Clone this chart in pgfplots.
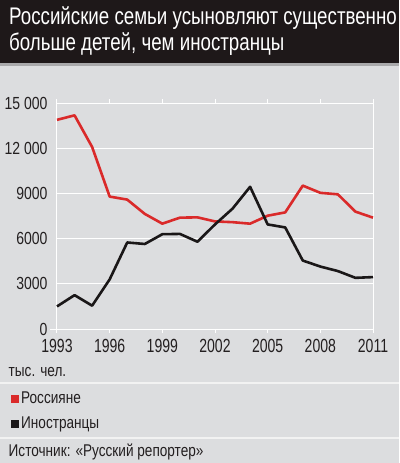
\documentclass[border=0pt]{standalone}
\usepackage{pgfplots}
\pgfplotsset{compat=1.18}
\usepackage{fontspec}
\setmainfont{Liberation Sans}[FakeStretch=0.8]
\newfontfamily\xfont{Liberation Sans}[FakeStretch=0.74]
\newfontfamily\tfont{Liberation Sans}[FakeStretch=0.78]
\definecolor{bg}{HTML}{DCDDDF}
\definecolor{titlebg}{HTML}{1E1819}
\definecolor{sepgray}{HTML}{A9A9AB}
\definecolor{rline}{HTML}{DA2A2A}
\definecolor{kline}{HTML}{1A1718}
\definecolor{txt}{HTML}{231F20}
\definecolor{sepwhite}{HTML}{F2F2F2}
\begin{document}
\begin{tikzpicture}[x=1pt,y=1pt]
\fill[bg] (0,0) rectangle (399,-463);
\fill[titlebg] (0,0) rectangle (399,-63);
\fill[sepgray] (0,-63) rectangle (399,-66);
\node[anchor=base west, text=white, font=\tfont\fontsize{24}{26}\selectfont, inner sep=0] at (9,-24) {Российские семьи усыновляют существенно};
\node[anchor=base west, text=white, font=\tfont\fontsize{24}{26}\selectfont, inner sep=0] at (9,-50) {больше детей, чем иностранцы};
\begin{axis}[at={(57pt,-329pt)}, anchor=south west, scale only axis,
  width=316pt, height=225.7pt,
  xmin=1993, xmax=2011, ymin=0, ymax=15000,
  scaled y ticks=false,
  xtick={1993,1996,1999,2002,2005,2008,2011},
  xticklabels={1993,1996,1999,2002,2005,2008,2011},
  ytick={0,3000,6000,9000,12000,15000},
  yticklabels={0,3000,6000,9000,12 000,15 000},
  /pgf/number format/assume math mode=true,
  axis line style={white, line width=1pt},
  ymajorgrids=true, xmajorgrids=false,
  major grid style={white, line width=1pt},
  tick align=outside, major tick length=4pt,
  xtick style={white, line width=1pt},
  ytick style={draw=none},
  yticklabel style={font=\fontsize{17.5}{18}\selectfont, text=txt, xshift=-2pt},
  xticklabel style={font=\xfont\fontsize{19}{20}\selectfont, text=txt, yshift=-3pt},
  clip=false,
]
\addplot[rline, line width=2.6pt, line join=round] coordinates {
(1993,13900)(1994,14200)(1995,12100)(1996,8800)(1997,8600)(1998,7650)(1999,7000)(2000,7400)(2001,7420)(2002,7150)(2003,7100)(2004,7000)(2005,7530)(2006,7750)(2007,9530)(2008,9050)(2009,8950)(2010,7800)(2011,7400)};
\addplot[kline, line width=2.6pt, line join=round] coordinates {
(1993,1500)(1994,2250)(1995,1550)(1996,3300)(1997,5750)(1998,5650)(1999,6300)(2000,6320)(2001,5800)(2002,6950)(2003,8000)(2004,9450)(2005,6950)(2006,6750)(2007,4550)(2008,4150)(2009,3850)(2010,3400)(2011,3450)};
\end{axis}
\draw[white, line width=1pt] (50,-329) -- (57,-329);
\node[anchor=base west, text=txt, font=\fontsize{17}{18}\selectfont, inner sep=0] at (8.5,-376.5) {тыс. чел.};
\fill[sepwhite] (0,-382) rectangle (399,-383.5);
\fill[rline] (11,-395) rectangle (19,-403);
\node[anchor=base west, text=txt, font=\fontsize{17}{18}\selectfont, inner sep=0] at (21,-403) {Россияне};
\fill[kline] (11,-420) rectangle (19,-428);
\node[anchor=base west, text=txt, font=\fontsize{17}{18}\selectfont, inner sep=0] at (21,-428) {Иностранцы};
\fill[sepwhite] (0,-437) rectangle (399,-438.5);
\node[anchor=base west, text=txt, font=\fontsize{17}{18}\selectfont, inner sep=0] at (8.5,-456.5) {Источник: «Русский репортер»};
\pgfresetboundingbox
\useasboundingbox (0,0) rectangle (399,-463);
\end{tikzpicture}
\end{document}
